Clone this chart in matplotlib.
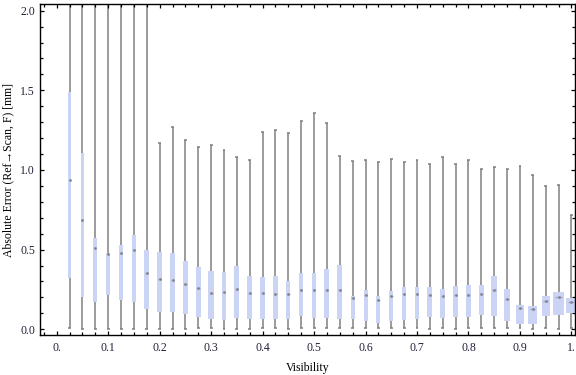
import matplotlib
matplotlib.use('Agg')
import matplotlib.pyplot as plt
from matplotlib.ticker import MultipleLocator, FixedLocator

plt.rcParams['font.family'] = ['Liberation Serif', 'DejaVu Serif']

# box positions (visibility bins)
visibility = [0.025 * k for k in range(1, 41)]

# whisker ends, quartiles and medians (mm)
whisker_low = [0.01, 0.0, 0.0, 0.0, 0.0, 0.0, 0.0, 0.0, 0.0, 0.0,
               0.005, 0.005, 0.0, 0.0, 0.0, 0.005, 0.005, 0.0, 0.005, 0.005,
               0.005, 0.005, 0.005, 0.005, 0.005, 0.005, 0.005, 0.005, 0.0, 0.005,
               0.0, 0.005, 0.005, 0.005, 0.005, 0.005, 0.0, 0.005, 0.0, 0.005]
whisker_high = [2.3, 2.3, 2.3, 2.3, 2.3, 2.3, 2.3, 1.168, 1.269, 1.187,
                1.145, 1.156, 1.124, 1.08, 1.061, 1.237, 1.25, 1.231, 1.306, 1.357,
                1.294, 1.087, 1.055, 1.061, 1.049, 1.068, 1.049, 1.061, 1.036, 1.08,
                1.036, 1.061, 1.005, 1.018, 1.005, 1.024, 0.967, 0.898, 0.905, 0.72]
q1 = [0.32, 0.205, 0.173, 0.217, 0.186, 0.173, 0.129, 0.111, 0.109, 0.098,
      0.079, 0.067, 0.06, 0.069, 0.063, 0.063, 0.067, 0.067, 0.085, 0.073,
      0.073, 0.067, 0.063, 0.05, 0.041, 0.054, 0.06, 0.067, 0.079, 0.073,
      0.079, 0.079, 0.092, 0.085, 0.054, 0.035, 0.035, 0.085, 0.092, 0.104]
median = [0.938, 0.687, 0.509, 0.473, 0.481, 0.498, 0.356, 0.316, 0.31, 0.287,
          0.261, 0.228, 0.233, 0.251, 0.226, 0.226, 0.224, 0.22, 0.247, 0.245,
          0.247, 0.247, 0.199, 0.215, 0.184, 0.209, 0.22, 0.22, 0.213, 0.209,
          0.215, 0.213, 0.22, 0.245, 0.19, 0.132, 0.128, 0.18, 0.203, 0.173]
q3 = [1.489, 1.105, 0.573, 0.477, 0.53, 0.59, 0.498, 0.484, 0.477, 0.429,
      0.391, 0.366, 0.36, 0.398, 0.335, 0.329, 0.335, 0.303, 0.354, 0.354,
      0.379, 0.404, 0.209, 0.247, 0.209, 0.241, 0.268, 0.268, 0.266, 0.253,
      0.272, 0.278, 0.278, 0.335, 0.253, 0.155, 0.146, 0.211, 0.234, 0.197]
# box widths vary with bin size (in visibility units)
box_width = [0.0058, 0.0064, 0.0072, 0.0078, 0.0084, 0.0091, 0.0097, 0.0103, 0.0103, 0.0103,
             0.0103, 0.0103, 0.0097, 0.0100, 0.0097, 0.0097, 0.0097, 0.0078, 0.0084, 0.0091,
             0.0097, 0.0097, 0.0078, 0.0078, 0.0078, 0.0084, 0.0087, 0.0081, 0.0097, 0.0091,
             0.0097, 0.0103, 0.0110, 0.0117, 0.0122, 0.0142, 0.0169, 0.0161, 0.0214, 0.0194]

box_color = '#ccd4f5'
line_color = '#808080'
label_color = '#22223a'

fig = plt.figure(figsize=(5.76, 3.75), dpi=100)
ax = fig.add_axes([40 / 576, 1 - 335 / 375, 534.5 / 576, (335 - 4.3) / 375])

ax.vlines(visibility, whisker_low, whisker_high, color=line_color, lw=1.1, zorder=1)
ax.hlines(whisker_low, [x - 0.0028 for x in visibility], [x + 0.0028 for x in visibility],
          color=line_color, lw=1.1, zorder=1)
ax.hlines(whisker_high, [x - 0.0028 for x in visibility], [x + 0.0028 for x in visibility],
          color=line_color, lw=1.1, zorder=1)
ax.bar(visibility, [b - a for a, b in zip(q1, q3)], bottom=q1, width=box_width,
       color=box_color, edgecolor='none', zorder=2)
ax.hlines(median, [x - 0.3 * w for x, w in zip(visibility, box_width)],
          [x + 0.3 * w for x, w in zip(visibility, box_width)],
          color='#a0a8c8', lw=1.0, zorder=3)
ax.plot(visibility, median, 'o', color='#868690', ms=2.0, mew=0, zorder=4)

ax.set_xlim(-0.0325, 1.006)
ax.set_ylim(-0.036, 2.04)

xt = [i / 10 for i in range(11)]
ax.xaxis.set_major_locator(FixedLocator(xt))
ax.set_xticklabels(['0.'] + ['0.%d' % i for i in range(1, 10)] + ['1.'])
ax.xaxis.set_minor_locator(MultipleLocator(0.025))
ax.yaxis.set_major_locator(MultipleLocator(0.5))
ax.yaxis.set_minor_locator(MultipleLocator(0.1))
ax.set_yticklabels([], minor=True)
ax.yaxis.set_major_formatter(matplotlib.ticker.FormatStrFormatter('%.1f'))

ax.tick_params(which='both', direction='in', top=True, right=True, width=0.9,
               colors='black', labelcolor=label_color, labelsize=8.5)
ax.tick_params(which='major', length=3.2)
ax.tick_params(which='minor', length=2.2)
ax.tick_params(axis='x', which='both', pad=5)
ax.tick_params(axis='y', which='both', pad=3.5)
for s in ax.spines.values():
    s.set_linewidth(1.0)

ax.set_xlabel('Visibility', fontsize=8.5, labelpad=6)
ax.set_ylabel('Absolute Error (Ref\u2192Scan, F) [mm]', fontsize=8.5, labelpad=4)

fig.savefig('out.png', dpi=100)
